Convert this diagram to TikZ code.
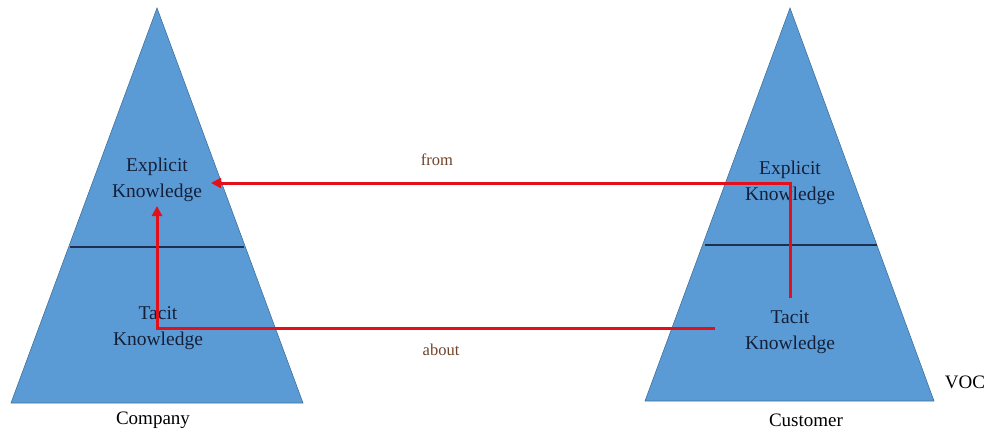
\documentclass[tikz,border=0pt]{standalone}
\usepackage{fontspec}
\setmainfont{Liberation Serif}
\usetikzlibrary{arrows.meta}
\definecolor{triblue}{HTML}{5B9BD5}
\definecolor{triedge}{HTML}{41719C}
\definecolor{divline}{HTML}{1F2F50}
\definecolor{arrred}{HTML}{E3101B}
\definecolor{lblbrown}{HTML}{6E4328}
\definecolor{txtdark}{HTML}{14203A}
\tikzset{
  tri/.style={fill=triblue, draw=triedge, line width=0.6pt},
  divider/.style={draw=divline, line width=1.8pt},
  inlabel/.style={text=txtdark, font=\fontsize{19.5}{26}\selectfont, align=center, inner sep=0pt},
  caption/.style={text=black, font=\fontsize{19}{22}\selectfont, inner sep=0pt},
  flowlabel/.style={text=lblbrown, font=\fontsize{16.5}{20}\selectfont, inner sep=0pt},
  flow/.style={draw=arrred, line width=3pt, -{Triangle[length=10pt,width=10pt]}}
}
\begin{document}
\begin{tikzpicture}[x=1pt,y=-1pt]
\useasboundingbox (0,0) rectangle (990,432);
% left triangle
\path[tri] (157,8) -- (11,403) -- (303,403) -- cycle;
\draw[divider] (70,247) -- (244,247);
% right triangle
\path[tri] (790,8) -- (645,401) -- (934,401) -- cycle;
\draw[divider] (705,245) -- (877,245);
% text nodes
\node[inlabel] (lexp) at (157,180) {Explicit\\Knowledge};
\node[inlabel] (ltac) at (158,328) {Tacit\\Knowledge};
\node[inlabel] (rexp) at (790,183) {Explicit\\Knowledge};
\node[inlabel] (rtac) at (790,332) {Tacit\\Knowledge};
\node[caption] (company) at (153,420) {Company};
\node[caption] (customer) at (806,420) {Customer};
\node[caption] (voc) at (965,382) {VOC};
\node[flowlabel] (from) at (437,160) {from};
\node[flowlabel] (about) at (441,350) {about};
% connector points
\coordinate (fromstart) at (790,298);
\coordinate (fromcorner) at (790,183);
\coordinate (fromend) at (211,183);
\coordinate (aboutstart) at (715,328);
\coordinate (aboutcorner) at (157,328);
\coordinate (aboutend) at (157,206);
% arrows
\draw[flow] (fromstart) -- (fromcorner) -- (fromend);
\draw[flow] (aboutstart) -- (aboutcorner) -- (aboutend);
\end{tikzpicture}
\end{document}
